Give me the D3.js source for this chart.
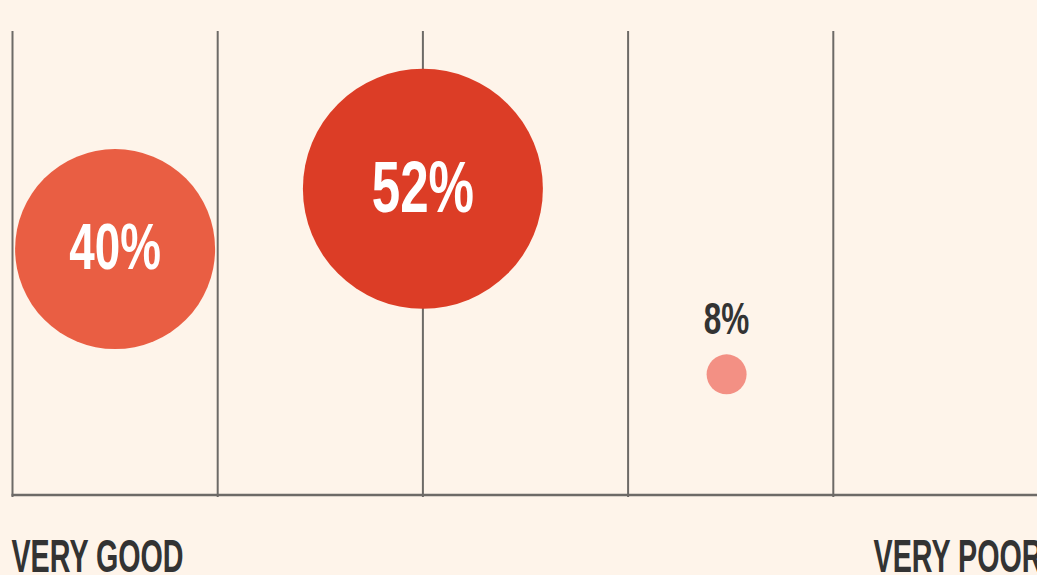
<!DOCTYPE html>
<html>
<head>
<meta charset="utf-8">
<script src="https://cdn.jsdelivr.net/npm/d3@7"></script>
<style>
  html, body { margin: 0; padding: 0; background: #fef4ea; overflow: hidden; }
  svg { display: block; }
  text { font-family: "Liberation Sans", Arial, sans-serif; font-weight: bold; }
</style>
</head>
<body>
<script>
// rating scale runs from very good (0) to very poor (5)
const ratingTicks = [0, 1, 2, 3, 4, 5];
const endLabels = ["VERY GOOD", "VERY POOR"];

// one bubble per answer
const shares = [40, 52, 8];            // percent
const ratingPos = [0.5, 2, 3.48];      // where on the scale
const heightPos = [0.53, 0.66, 0.26];  // vertical place in the plot (0 = baseline, 1 = top)
const bubbleColors = ["#e95e43", "#dc3d26", "#f39084"];

const width = 1037, height = 575;
const plotTop = 31, plotBase = 495;

const svg = d3.select("body").append("svg")
  .attr("width", width)
  .attr("height", height);

svg.append("rect").attr("width", width).attr("height", height).attr("fill", "#fef4ea");

const x = d3.scaleLinear().domain([0, 5]).range([12.5, 1038.5]);
const y = d3.scaleLinear().domain([0, 1]).range([plotBase, plotTop]);
const r = d3.scaleLinear().domain([8, 40, 52]).range([20, 100, 120]);
const fontSize = d3.scaleLinear().domain([8, 52]).range([45, 73]);

//grid lines
svg.append("g").selectAll("line")
  .data(ratingTicks)
  .enter().append("line")
    .attr("x1", d => x(d)).attr("x2", d => x(d))
    .attr("y1", plotTop).attr("y2", plotBase + 2)
    .attr("stroke", "#6d6a67")
    .attr("stroke-width", 2);

svg.append("line")
  .attr("x1", x(0) - 1).attr("x2", x(5))
  .attr("y1", plotBase).attr("y2", plotBase)
  .attr("stroke", "#6d6a67")
  .attr("stroke-width", 2.5);

const data = shares.map((v, i) => ({value: v, pos: ratingPos[i], h: heightPos[i], color: bubbleColors[i]}));

const bubbles = svg.append("g").selectAll("g")
  .data(data)
  .enter().append("g")
    .attr("transform", d => "translate(" + x(d.pos) + "," + y(d.h) + ")");

bubbles.append("circle")
  .attr("r", d => r(d.value))
  .attr("fill", d => d.color);

// big bubbles get the label inside, small ones above
bubbles.append("text")
  .attr("text-anchor", "middle")
  .attr("font-size", d => fontSize(d.value))
  .attr("fill", d => r(d.value) > 40 ? "#ffffff" : "#333333")
  .attr("y", d => r(d.value) > 40
      ? fontSize(d.value) * 0.729 / 2 - 3.5
      : -r(d.value) - 20)
  .text(d => d.value + "%");

// end labels under the axis
svg.append("text")
  .attr("class", "end")
  .attr("x", x(0) - 1)
  .attr("y", 572)
  .attr("font-size", 47)
  .attr("fill", "#333333")
  .text(endLabels[0]);

svg.append("text")
  .attr("class", "end")
  .attr("x", x(5) + 4)
  .attr("y", 572)
  .attr("text-anchor", "end")
  .attr("font-size", 47)
  .attr("fill", "#333333")
  .text(endLabels[1]);

// squeeze the text so it reads like a condensed face
svg.selectAll("text").each(function() {
  const el = d3.select(this);
  const k = el.classed("end") ? 0.61 : 0.70;
  el.attr("textLength", this.getComputedTextLength() * k)
    .attr("lengthAdjust", "spacingAndGlyphs");
});
</script>
</body>
</html>
